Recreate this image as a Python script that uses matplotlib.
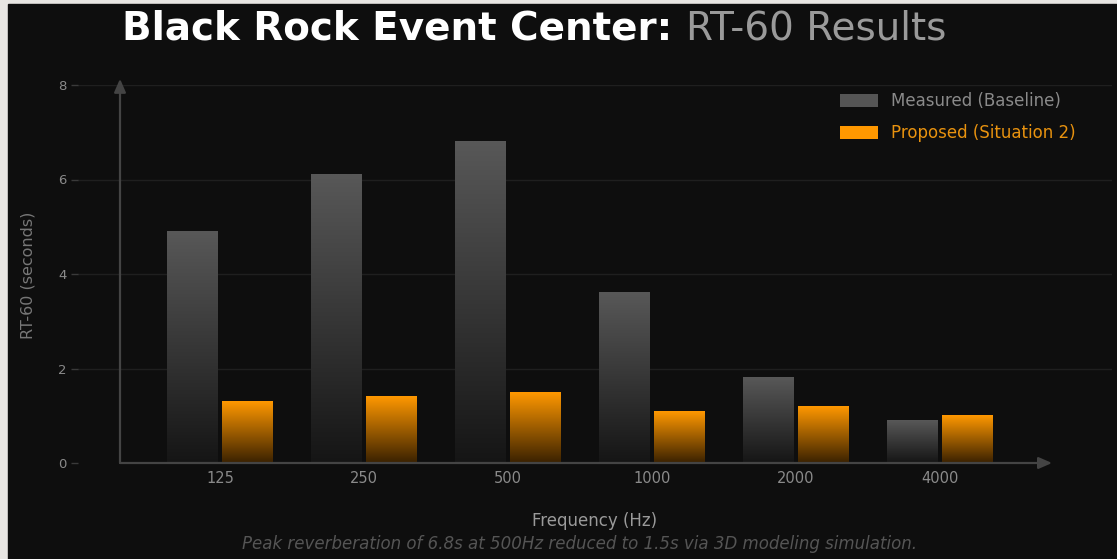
import numpy as np
import matplotlib
matplotlib.use("Agg")
import matplotlib.pyplot as plt
from matplotlib.colors import LinearSegmentedColormap
from matplotlib.patches import Rectangle, Patch

# RT-60 per octave band
frequencies = ["125", "250", "500", "1000", "2000", "4000"]
measured = [4.9, 6.1, 6.8, 3.6, 1.8, 0.9]
proposed = [1.3, 1.4, 1.5, 1.1, 1.2, 1.0]
y_ticks = [0, 2, 4, 6, 8]

BG = "#0e0e0e"
GRAY_TOP, GRAY_BOT = "#585858", "#151515"
ORANGE_TOP, ORANGE_BOT = "#ff9800", "#3a2100"

W, H = 1117, 559
fig = plt.figure(figsize=(W / 100, H / 100), dpi=100)
fig.patch.set_facecolor("#e8e6e3")
fig.patches.append(Rectangle((8 / W, 0), 1 - 8 / W, 1 - 4 / H,
                             transform=fig.transFigure, color=BG, zorder=-10))

ax = fig.add_axes([78 / W, (H - 463) / H, (1112 - 78) / W, 378 / H])
ax.set_facecolor("none")
for s in ax.spines.values():
    s.set_visible(False)

x = np.arange(len(frequencies))
bw = 0.354
off = 0.194

gray_cmap = LinearSegmentedColormap.from_list("g", [GRAY_BOT, GRAY_TOP])
orange_cmap = LinearSegmentedColormap.from_list("o", [ORANGE_BOT, ORANGE_TOP])
grad = np.linspace(0, 1, 256).reshape(-1, 1)


def gradient_bar(xc, h, cmap):
    ax.imshow(grad, extent=[xc - bw / 2, xc + bw / 2, 0, h], origin="lower",
              aspect="auto", cmap=cmap, zorder=2, interpolation="bilinear")


for i in range(len(frequencies)):
    gradient_bar(x[i] - off, measured[i], gray_cmap)
    gradient_bar(x[i] + off, proposed[i], orange_cmap)

xmin, xmax = (78 - 220) / 144, (1112 - 220) / 144
ax.set_xlim(xmin, xmax)
ax.set_ylim(0, 8)

for t in y_ticks[1:]:
    ax.axhline(t, color="#1f1f1f", lw=1, zorder=1)

ax.set_yticks(y_ticks)
ax.set_yticklabels([str(t) for t in y_ticks])
ax.tick_params(axis="y", colors="#3a3a3a", labelcolor="#8a8a8a", length=5,
               width=1, pad=3, labelsize=9.5)
ax.set_xticks(x)
ax.set_xticklabels(frequencies)
ax.tick_params(axis="x", length=0, pad=6, labelcolor="#8a8a8a", labelsize=10.5)

# axis arrows
ax0 = (120 - 220) / 144
ax.annotate("", xy=(ax0, 8.13), xytext=(ax0, 0), annotation_clip=False,
            arrowprops=dict(arrowstyle="-|>,head_length=0.8,head_width=0.35",
                            color="#444444", lw=1.6, shrinkA=0, shrinkB=0), zorder=3)
ax.annotate("", xy=((1052 - 220) / 144, 0), xytext=(ax0, 0), annotation_clip=False,
            arrowprops=dict(arrowstyle="-|>,head_length=0.8,head_width=0.35",
                            color="#444444", lw=1.6, shrinkA=0, shrinkB=0), zorder=3)

ax.set_xlabel("Frequency (Hz)", color="#9a9a9a", fontsize=12, labelpad=18.5)
fig.text(28 / W, 1 - 275 / H, "RT-60 (seconds)", rotation=90, color="#777777",
         fontsize=11.5, ha="center", va="center")

handles = [Patch(facecolor="#555555"), Patch(facecolor="#ff9800")]
ax.legend(handles, ["Measured (Baseline)", "Proposed (Situation 2)"],
          loc="upper left", bbox_to_anchor=(840 / W, 1 - 92 / H),
          bbox_transform=fig.transFigure, frameon=False, fontsize=12,
          handlelength=2.3, handleheight=0.85, handletextpad=0.75,
          labelspacing=0.85, borderpad=0, borderaxespad=0,
          labelcolor=["#8a8a8a", "#e8920e"])

# two-tone title
t1 = fig.text(122 / W, 1 - 40 / H, "Black Rock Event Center:", color="white",
              fontsize=28, fontweight="bold", ha="left", va="baseline")
fig.canvas.draw()
bb = t1.get_window_extent()
fig.text((bb.x1 + 14) / W, 1 - 40 / H, "RT-60 Results", color="#9a9a9a",
         fontsize=28, ha="left", va="baseline")

fig.text(580 / W, 1 - 544 / H,
         "Peak reverberation of 6.8s at 500Hz reduced to 1.5s via 3D modeling simulation.",
         color="#555555", fontsize=12, style="italic", ha="center", va="center")

fig.savefig("out.png", dpi=100, facecolor=fig.get_facecolor())
